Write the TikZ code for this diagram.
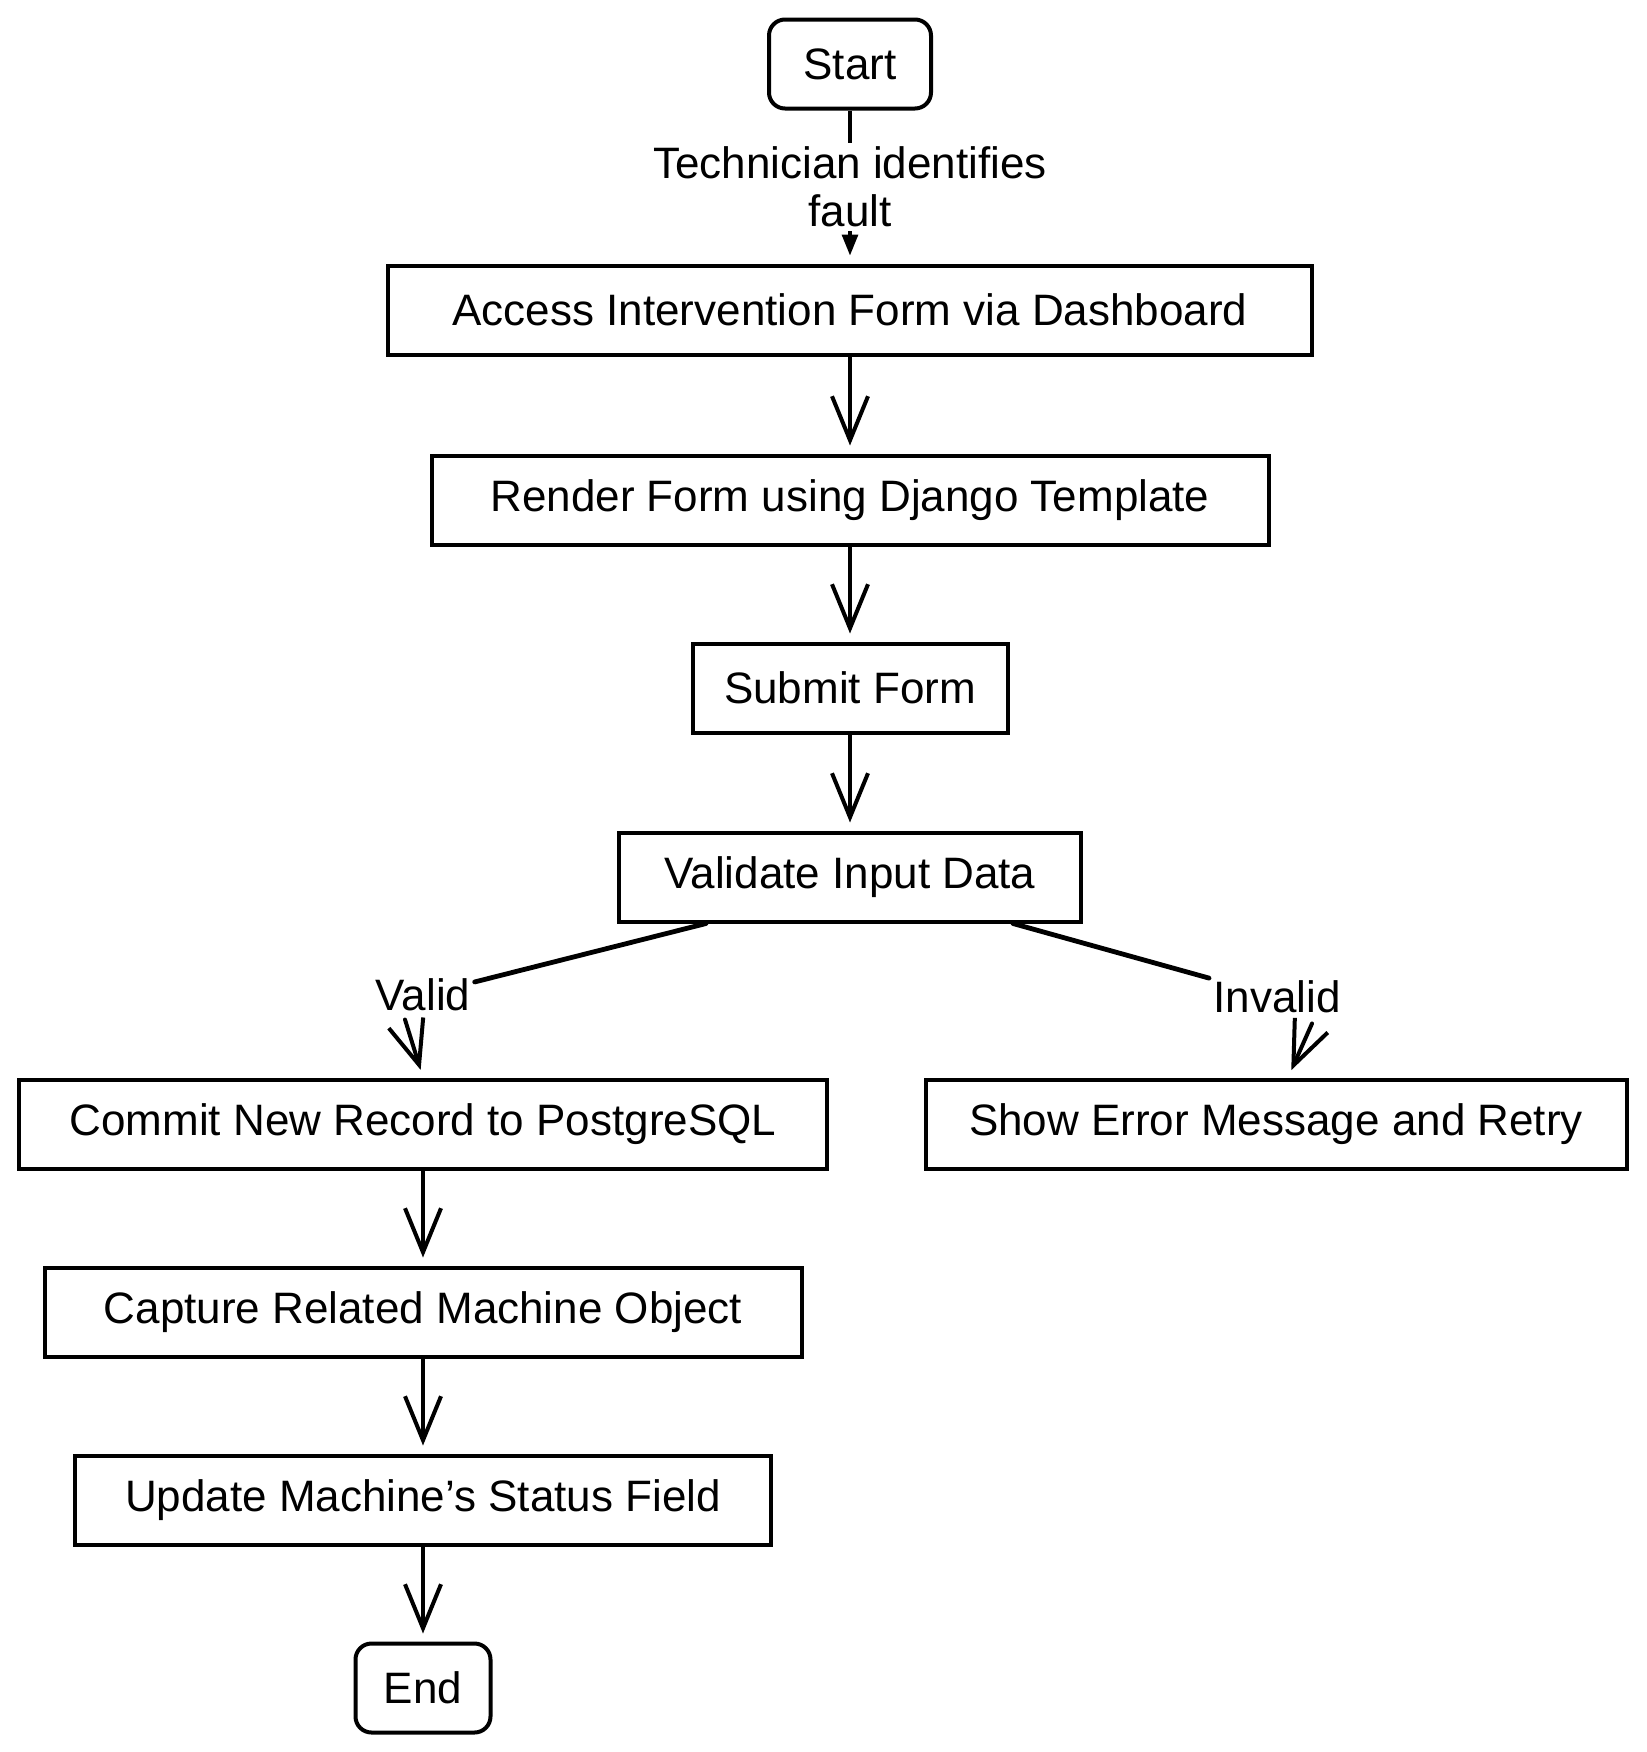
\documentclass[tikz,border=0pt]{standalone}
\usepackage{fontspec}
\setmainfont{Liberation Sans}
\usetikzlibrary{arrows.meta,calc,positioning}
\tikzset{
  box/.style={draw,line width=2pt,inner sep=0pt,minimum height=44.5pt,font=\fontsize{22}{25}\selectfont},
  term/.style={box,rounded corners=8pt},
  lbl/.style={inner sep=2pt,align=center,font=\fontsize{22}{24}\selectfont},
  arr/.style={line width=2pt,line cap=round,line join=round,-{Straight Barb[length=22pt,width=18pt]},shorten >=4pt}
}

\begin{document}
\begin{tikzpicture}[x=0.5pt,y=-0.5pt]
  \useasboundingbox[fill=white] (0,0) rectangle (1646,1752);
  % main column
  \node[term,minimum width=81pt] (start) at (850,64) {Start};
  \node[box,minimum width=462pt] (access) at (850,310) {Access Intervention Form via Dashboard};
  \node[box,minimum width=418.5pt] (render) at (850,500) {Render Form using Django Template};
  \node[box,minimum width=157.5pt] (submit) at (850,688) {Submit Form};
  \node[box,minimum width=231pt] (validate) at (850,877) {Validate Input Data};
  % branches
  \node[box,minimum width=404pt] (commit) at (423,1124) {Commit New Record to PostgreSQL};
  \node[box,minimum width=350.5pt] (error) at (1276,1124) {Show Error Message and Retry};
  \node[box,minimum width=378.5pt] (capture) at (423,1312) {Capture Related Machine Object};
  \node[box,minimum width=348pt] (update) at (423,1500) {Update Machine's Status Field};
  \node[term,minimum width=67.5pt] (end) at (423,1688) {End};
  \node[lbl] (valid) at (423,995) {Valid};
  \node[lbl] (invalid) at (1277,997) {Invalid};

  \draw[line width=1.6pt,-{Triangle[length=10.5pt,width=8pt]},shorten >=4pt] (start) -- node[lbl,fill=white] (fault) {Technician identifies\\fault} (access);
  \draw[arr] (access) -- (render);
  \draw[arr] (render) -- (submit);
  \draw[arr] (submit) -- (validate);
  \draw[line width=2.4pt,line cap=round] ($(validate.south)+(-144,0)$) -- (valid);
  \draw[arr] ($(valid.south)+(-18,4)$) -- (commit.north);
  \draw[line width=2.4pt,line cap=round] ($(validate.south)+(163,0)$) -- (invalid);
  \draw[arr] ($(invalid.south)+(35,6)$) -- ($(error.north)+(12,0)$);
  \draw[arr] (commit) -- (capture);
  \draw[arr] (capture) -- (update);
  \draw[arr] (update) -- (end);
\end{tikzpicture}
\end{document}
